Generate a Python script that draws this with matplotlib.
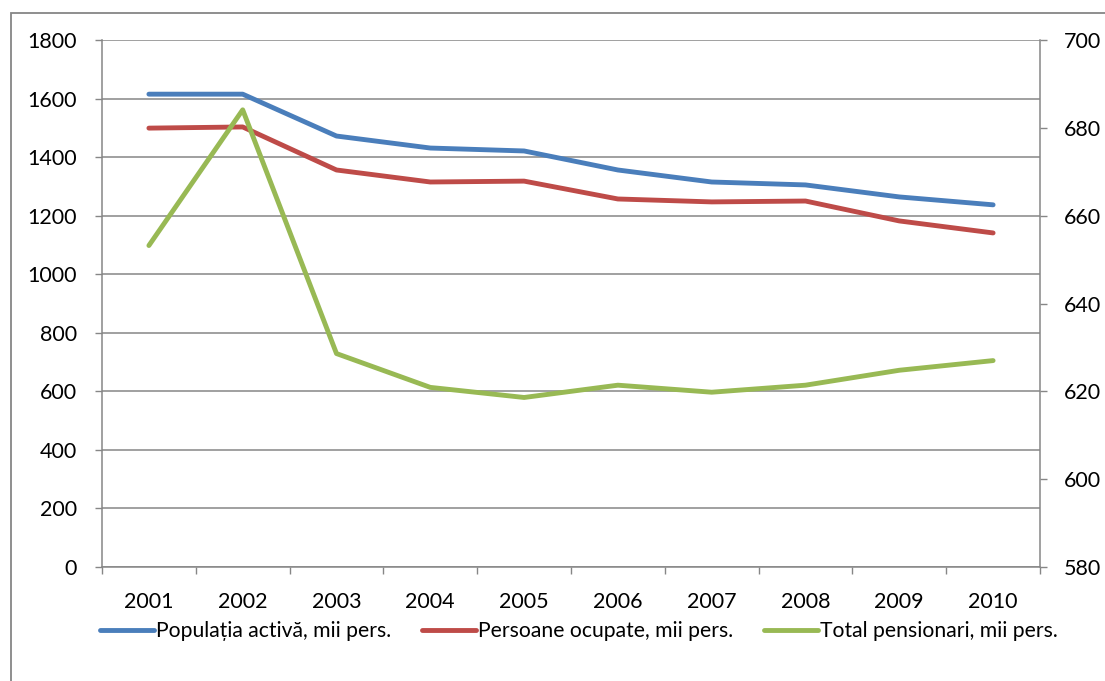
import numpy as np
import matplotlib.pyplot as plt
from matplotlib.patches import Rectangle

plt.rcParams['font.family'] = ['Lato', 'DejaVu Sans']

years = ['2001', '2002', '2003', '2004', '2005', '2006', '2007', '2008', '2009', '2010']
populatia_activa = [1615, 1615, 1472, 1431, 1421, 1356, 1315, 1305, 1264, 1237]
persoane_ocupate = [1499, 1503, 1356, 1315, 1318, 1257, 1247, 1250, 1182, 1141]
total_pensionari = [653.2, 684.1, 628.6, 620.9, 618.6, 621.4, 619.8, 621.4, 624.8, 627.0]

blue = '#4A7EBB'
red = '#BE4B48'
green = '#98B954'
gray = '#868686'

W, H = 1105, 681
fig = plt.figure(figsize=(W / 100, H / 100), dpi=100)

# outer chart border (runs past the right and bottom edges)
fig.patches.append(Rectangle((11 / W, -0.2), 1.5, 1 - 13 / H + 0.2,
                             transform=fig.transFigure, fill=False,
                             edgecolor=gray, lw=1.3))

ax = fig.add_axes([102 / W, 1 - 567 / H, (1040 - 102) / W, (567 - 40) / H])
ax2 = ax.twinx()

x = np.arange(len(years))
l1, = ax.plot(x, populatia_activa, color=blue, lw=3.5,
              solid_capstyle='round', solid_joinstyle='round')
l2, = ax.plot(x, persoane_ocupate, color=red, lw=3.5,
              solid_capstyle='round', solid_joinstyle='round')
l3, = ax2.plot(x, total_pensionari, color=green, lw=3.5,
               solid_capstyle='round', solid_joinstyle='round')

ax.set_xlim(-0.5, len(years) - 0.5)
ax.set_ylim(0, 1800)
ax.set_yticks(np.arange(0, 1801, 200))
ax2.set_ylim(580, 700)
ax2.set_yticks(np.arange(580, 701, 20))

ax.set_xticks(x)
ax.set_xticklabels(years)
ax.set_xticks(np.arange(-0.5, len(years), 1), minor=True)
ax.tick_params(axis='x', which='major', length=0, pad=18, labelsize=15.5)
ax.tick_params(axis='x', which='minor', length=5, width=1, color=gray, direction='out')
ax.tick_params(axis='y', length=5, width=1, color=gray, pad=13, labelsize=15.5)
ax2.tick_params(axis='y', length=5, width=1, color=gray, pad=12, labelsize=15.5)

ax.grid(axis='y', color=gray, lw=1.1)
ax.set_axisbelow(True)
for a in (ax, ax2):
    a.spines['top'].set_visible(False)
    for s in ('left', 'right', 'bottom'):
        a.spines[s].set_color(gray)
        a.spines[s].set_linewidth(1.1)
ax.spines['right'].set_visible(False)
ax2.spines['left'].set_visible(False)
ax2.spines['bottom'].set_visible(False)

fig.legend([l1, l2, l3],
           ['Populația activă, mii pers.', 'Persoane ocupate, mii pers.',
            'Total pensionari, mii pers.'],
           loc='center', bbox_to_anchor=(579 / W, 1 - 631 / H), ncol=3,
           frameon=False, fontsize=15.2, handlelength=2.55, handletextpad=0.1,
           columnspacing=1.45)

fig.savefig('out.png', dpi=100)
